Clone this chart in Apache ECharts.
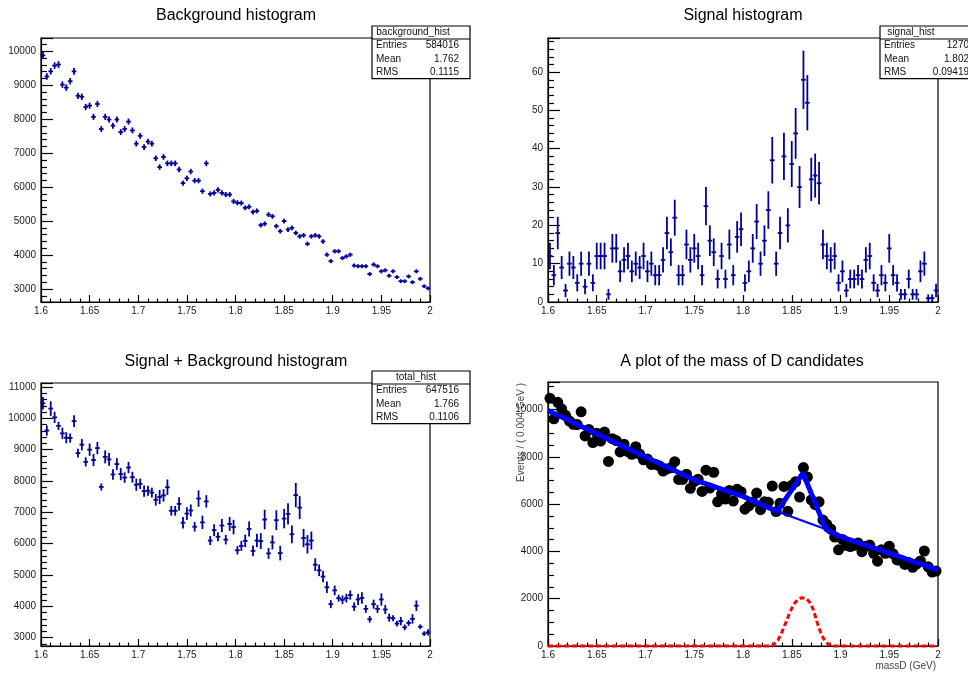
<!DOCTYPE html>
<html>
<head>
<meta charset="utf-8">
<script src="https://cdn.jsdelivr.net/npm/echarts@6/dist/echarts.min.js"></script>
<style>
  html, body { margin: 0; padding: 0; background: #fff; }
  #chart { width: 968px; height: 675px; }
</style>
</head>
<body>
<div id="chart"></div>
<script>
// ---- data ----
var BIN_LO = 1.6, BIN_WIDTH = 0.004, SIGNAL_WEIGHT = 50;

var bgCounts = [
  9880, 9260, 9410, 9580, 9610, 9020, 8930, 9120, 9410, 8690,
  8660, 8360, 8400, 8070, 8450, 7710, 8070, 7990, 7810, 7990,
  7620, 7710, 7930, 7670, 7280, 7510, 7180, 7340, 7280, 6850,
  6590, 6890, 6700, 6700, 6700, 6520, 6120, 6260, 6460, 6190,
  6190, 5880, 6700, 5800, 5830, 5920, 5830, 5780, 5780, 5580,
  5540, 5530, 5390, 5420, 5270, 5300, 4880, 4920, 5190, 5140,
  4850, 4700, 5000, 4750, 4800, 4650, 4550, 4580, 4330, 4550,
  4580, 4550, 4400, 4010, 3820, 4110, 4110, 3910, 3960, 4010,
  3690, 3670, 3670, 3670, 3440, 3720, 3670, 3520, 3550, 3390,
  3520, 3350, 3230, 3230, 3370, 3200, 3520, 3300, 3080, 3020
];

var sigCounts = [
  12, 7, 18, 9, 3, 10, 9, 5, 10, 4,
  10, 5, 12, 12, 12, 2, 14, 14, 8, 11,
  12, 8, 10, 9, 12, 8, 10, 7, 7, 11,
  18, 13, 22, 7, 7, 15, 11, 14, 12, 7,
  25, 16, 13, 6, 12, 6, 15, 7, 17, 19,
  5, 8, 14, 21, 10, 16, 24, 37, 10, 18,
  38, 20, 36, 44, 30, 58, 52, 32, 33, 31,
  15, 12, 11, 12, 5, 8, 3, 6, 6, 7,
  6, 11, 12, 5, 3, 7, 5, 14, 7, 5,
  2, 2, 6, 2, 2, 8, 10, 1, 1, 3
];

var totalCounts = [
  10480, 9610, 10310, 10030, 9760, 9520, 9380, 9370, 9910, 8890,
  9160, 8610, 9000, 8670, 9050, 7810, 8770, 8690, 8210, 8540,
  8220, 8110, 8430, 8120, 7880, 7910, 7680, 7690, 7630, 7400,
  7490, 7540, 7800, 7050, 7050, 7270, 6670, 6960, 7060, 6540,
  7440, 6680, 7350, 6100, 6430, 6220, 6580, 6130, 6630, 6530,
  5790, 5930, 6090, 6470, 5770, 6100, 6080, 6770, 5690, 6040,
  6750, 5700, 6800, 6950, 6300, 7550, 7150, 6180, 5980, 6100,
  5330, 5150, 4950, 4610, 4070, 4510, 4260, 4210, 4260, 4360,
  3990, 4220, 4270, 3920, 3590, 4070, 3920, 4220, 3900, 3640,
  3620, 3450, 3530, 3330, 3470, 3600, 4020, 3350, 3130, 3170
];

// fit curves of the last panel
var fitMass   = [1.6, 1.65, 1.7, 1.75, 1.8, 1.835, 1.8615, 1.885, 1.9, 1.95, 2.0];
var fitEvents = [9960, 8980, 8000, 7030, 6330, 5690, 7320, 4940, 4630, 3930, 3220];
var bkgMass   = [1.6, 1.65, 1.7, 1.75, 1.8, 1.835, 1.885, 1.9, 1.95, 2.0];
var bkgEvents = [9960, 8980, 8000, 7030, 6330, 5690, 4940, 4630, 3930, 3220];
var sigPdfMass   = [1.6, 1.83, 1.836, 1.84, 1.844, 1.848, 1.852, 1.856, 1.86, 1.862, 1.864, 1.868, 1.872, 1.876, 1.88, 1.884, 1.888, 1.892, 2.0];
var sigPdfEvents = [0, 0, 250, 600, 1000, 1420, 1760, 1960, 2040, 2050, 2030, 1880, 1560, 1000, 520, 220, 60, 0, 0];

var titles = ['Background histogram', 'Signal histogram', 'Signal + Background histogram', 'A plot of the mass of D candidates'];
var statsNames = ['background_hist', 'signal_hist', 'total_hist'];
var statsEntries = ['584016', '1270', '647516'];
var statsMean = ['1.762', '1.802', '1.766'];
var statsRms = ['0.1115', '0.09419', '0.1106'];

// ---- layout ----
var FONT = 'Liberation Sans';
var HIST_COLOR = '#000099';
var grids = [
  { left: 41, top: 38, width: 389, height: 264 },
  { left: 548, top: 38, width: 390, height: 264 },
  { left: 41, top: 383, width: 389, height: 263 },
  { left: 548, top: 382, width: 390, height: 264 }
];
var titleX = [236, 743, 236, 742];
var titleY = [16, 16, 362, 362];
var statsPos = [
  { left: 372, top: 26, cx: 413, right: 459 },
  { left: 880, top: 26, cx: 911, right: 969 },
  { left: 372, top: 371, cx: 416, right: 459 }
];

var binCenters = bgCounts.map(function (v, i) {
  return +(BIN_LO + (i + 0.5) * BIN_WIDTH).toFixed(4);
});
var bgData = binCenters.map(function (x, i) {
  return [x, bgCounts[i], Math.sqrt(bgCounts[i])];
});
var sigData = binCenters.map(function (x, i) {
  return [x, sigCounts[i], Math.sqrt(sigCounts[i])];
});
var totalData = binCenters.map(function (x, i) {
  return [x, totalCounts[i], Math.sqrt(bgCounts[i] + SIGNAL_WEIGHT * SIGNAL_WEIGHT * sigCounts[i])];
});
function pairs(xs, ys) {
  return xs.map(function (x, i) { return [x, ys[i]]; });
}

var chartDom = document.getElementById('chart');
var myChart = echarts.init(chartDom);
var option;

function histRender(params, api) {
  var x = api.value(0), y = api.value(1), e = api.value(2);
  var c = api.coord([x, y]);
  var lo = api.coord([x, y - e]);
  var hi = api.coord([x, y + e]);
  var half = api.size([BIN_WIDTH, 0])[0] / 2 + 0.4;
  var st = { stroke: HIST_COLOR, lineWidth: 1.8 };
  return {
    type: 'group',
    children: [
      { type: 'line', shape: { x1: c[0] - half, y1: c[1], x2: c[0] + half, y2: c[1] }, style: st },
      { type: 'line', shape: { x1: c[0], y1: lo[1], x2: c[0], y2: hi[1] }, style: st }
    ]
  };
}

function massAxis(idx) {
  return {
    type: 'value', gridIndex: idx, min: 1.6, max: 2, interval: 0.05,
    axisLine: { show: true, onZero: false, lineStyle: { color: '#000', width: 1.2 } },
    axisTick: { show: true, inside: true, length: 7, lineStyle: { color: '#000', width: 1.2 } },
    minorTick: { show: true, splitNumber: 5, length: 3.5, lineStyle: { color: '#000', width: 1.2 } },
    splitLine: { show: false },
    axisLabel: {
      color: '#1a1a1a', fontSize: 10, fontFamily: FONT, margin: 4,
      formatter: function (v) { return String(+v.toFixed(2)); }
    }
  };
}

function countAxis(idx, min, max, step, minor, hideMin) {
  var ax = {
    type: 'value', gridIndex: idx, min: min, max: max,
    axisLine: { show: true, onZero: false, lineStyle: { color: '#000', width: 1.2 } },
    axisTick: { show: true, inside: true, length: 12, lineStyle: { color: '#000', width: 1.2 } },
    minorTick: { show: true, splitNumber: minor, length: 6, lineStyle: { color: '#000', width: 1.2 } },
    splitLine: { show: false },
    axisLabel: {
      color: '#1a1a1a', fontSize: 10, fontFamily: FONT, margin: 5,
      showMinLabel: !hideMin, showMaxLabel: false,
      formatter: function (v) { return String(Math.round(v)); }
    }
  };
  if (hideMin) ax.splitNumber = step; else ax.interval = step;
  return ax;
}

function statsBox(k) {
  var p = statsPos[k], w = 98, headH = 13, rowH = 13.2;
  var txt = function (text, x, y, align) {
    return {
      type: 'text', x: x, y: y, z: 101,
      style: { text: text, fill: '#111', fontSize: 10, fontFamily: FONT,
               align: align, textAlign: align, verticalAlign: 'middle', textVerticalAlign: 'middle' }
    };
  };
  var els = [
    { type: 'rect', z: 100, shape: { x: p.left, y: p.top, width: w, height: headH + 3 * rowH },
      style: { fill: '#fff', stroke: '#000', lineWidth: 1.2 } },
    { type: 'line', z: 100, shape: { x1: p.left, y1: p.top + headH, x2: p.left + w, y2: p.top + headH },
      style: { stroke: '#000', lineWidth: 1.2 } },
    txt(statsNames[k], p.cx, p.top + headH / 2, 'center')
  ];
  var labels = ['Entries', 'Mean', 'RMS'];
  var vals = [statsEntries[k], statsMean[k], statsRms[k]];
  labels.forEach(function (l, r) {
    var y = p.top + headH + rowH * (r + 0.5);
    els.push(txt(l, p.left + 4, y, 'left'));
    els.push(txt(vals[r], p.right, y, 'right'));
  });
  return els;
}

var graphicEls = [].concat(statsBox(0), statsBox(1), statsBox(2));
graphicEls.push({
  type: 'text', x: 521, y: 383, rotation: Math.PI / 2, z: 101,
  style: { text: 'Events / ( 0.004 GeV )', fill: '#444', fontSize: 10, fontFamily: FONT,
           align: 'right', textAlign: 'right', verticalAlign: 'middle', textVerticalAlign: 'middle' }
});
graphicEls.push({
  type: 'text', x: 936, y: 666, z: 101,
  style: { text: 'massD (GeV)', fill: '#444', fontSize: 10, fontFamily: FONT,
           align: 'right', textAlign: 'right', verticalAlign: 'middle', textVerticalAlign: 'middle' }
});

option = {
  backgroundColor: '#fff',
  animation: false,
  textStyle: { fontFamily: FONT },
  title: titles.map(function (t, i) {
    return {
      text: t, left: titleX[i], top: titleY[i], padding: 0,
      textAlign: 'center', textVerticalAlign: 'middle',
      textStyle: { fontSize: 16, fontWeight: 'normal', color: '#000', fontFamily: FONT }
    };
  }),
  grid: grids.map(function (g) {
    return {
      left: g.left, top: g.top, width: g.width, height: g.height,
      show: true, borderColor: '#000', borderWidth: 1.2, backgroundColor: 'transparent',
      containLabel: false, outerBoundsMode: 'none'
    };
  }),
  xAxis: [massAxis(0), massAxis(1), massAxis(2), massAxis(3)],
  yAxis: [
    countAxis(0, 2617, 10392, 8, 5, true),
    countAxis(1, 0, 68.9, 10, 5, false),
    countAxis(2, 2735, 11127, 8, 5, true),
    countAxis(3, 0, 11170, 2000, 4, false)
  ],
  graphic: { elements: graphicEls },
  series: [
    { type: 'custom', xAxisIndex: 0, yAxisIndex: 0, renderItem: histRender, encode: { x: 0, y: 1 }, data: bgData, z: 2 },
    { type: 'custom', xAxisIndex: 1, yAxisIndex: 1, renderItem: histRender, encode: { x: 0, y: 1 }, data: sigData, z: 2 },
    { type: 'custom', xAxisIndex: 2, yAxisIndex: 2, renderItem: histRender, encode: { x: 0, y: 1 }, data: totalData, z: 2 },
    {
      type: 'scatter', xAxisIndex: 3, yAxisIndex: 3, symbol: 'circle', symbolSize: 11,
      itemStyle: { color: '#000', opacity: 1 }, data: pairs(binCenters, totalCounts), clip: false, z: 2
    },
    {
      type: 'line', xAxisIndex: 3, yAxisIndex: 3, data: pairs(fitMass, fitEvents),
      showSymbol: false, symbol: 'none', clip: false, z: 4,
      lineStyle: { color: '#0000ff', width: 5 }
    },
    {
      type: 'line', xAxisIndex: 3, yAxisIndex: 3, data: pairs(bkgMass, bkgEvents),
      showSymbol: false, symbol: 'none', clip: false, z: 4,
      lineStyle: { color: '#0000ff', width: 2.2 }
    },
    {
      type: 'line', xAxisIndex: 3, yAxisIndex: 3, data: pairs(sigPdfMass, sigPdfEvents),
      showSymbol: false, symbol: 'none', clip: false, z: 5,
      lineStyle: { color: '#ff0000', width: 3, type: [5, 3] }
    }
  ]
};

option && myChart.setOption(option);
</script>
</body>
</html>
